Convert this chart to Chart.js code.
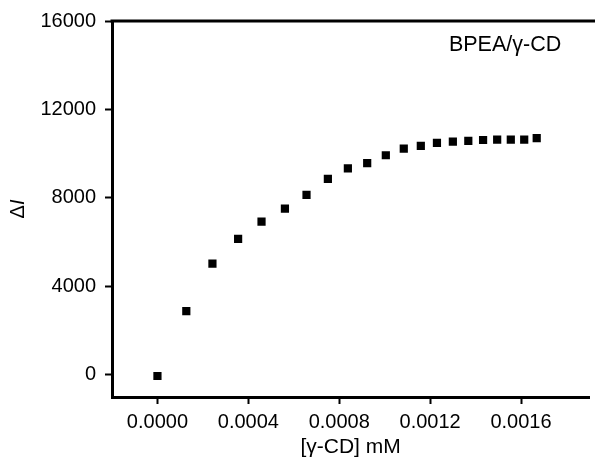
<!DOCTYPE html>
<html>
<head>
<meta charset="utf-8">
<title>BPEA/γ-CD titration</title>
<script src="https://cdn.jsdelivr.net/npm/chart.js@4/dist/chart.umd.min.js"></script>
<style>
    html, body { margin: 0; padding: 0; background: #fff; overflow: hidden; }
    #wrap { width: 595px; height: 466px; position: relative; }
</style>
</head>
<body>
<div id="wrap"><canvas id="chart"></canvas></div>
<script>
// [γ-CD] (mM) and intensity change ΔI
const concGammaCD = [0.0000, 0.000127, 0.000242, 0.000355, 0.000458, 0.000561, 0.000656,
    0.000750, 0.000838, 0.000923, 0.001005, 0.001084, 0.001159, 0.001230, 0.001300,
    0.001368, 0.001433, 0.001495, 0.001555, 0.001614, 0.001669];
const deltaI = [-50, 2880, 5030, 6150, 6930, 7520, 8140, 8860, 9340, 9570, 9930,
    10230, 10350, 10490, 10550, 10580, 10620, 10640, 10640, 10640, 10700];

const xTicks = [0, 0.0004, 0.0008, 0.0012, 0.0016];
const yTicks = [0, 4000, 8000, 12000, 16000];

const FONT = 'Liberation Sans, Arial, Helvetica, sans-serif';

// extra text: top frame line, y title (ΔI with italic I), series label
const extras = {
    id: 'extras',
    afterDraw(c) {
        const a = c.chartArea, ctx = c.ctx;
        ctx.save();
        ctx.strokeStyle = '#000';
        ctx.lineWidth = 3;
        ctx.beginPath();
        ctx.moveTo(a.left - 1.5, a.top);
        ctx.lineTo(c.width, a.top);
        ctx.stroke();

        ctx.fillStyle = '#000';
        ctx.textBaseline = 'middle';

        // y title, rotated
        ctx.save();
        ctx.translate(18, (a.top + a.bottom) / 2);
        ctx.rotate(-Math.PI / 2);
        ctx.font = '20px ' + FONT;
        const wD = ctx.measureText('Δ').width;
        ctx.font = 'italic 20px ' + FONT;
        const wI = ctx.measureText('I').width;
        let x0 = -(wD + wI) / 2;
        ctx.textAlign = 'left';
        ctx.font = '20px ' + FONT;
        ctx.fillText('Δ', x0, 0);
        ctx.font = 'italic 20px ' + FONT;
        ctx.fillText('I', x0 + wD, 0);
        ctx.restore();

        ctx.font = '21.5px ' + FONT;
        ctx.textAlign = 'right';
        ctx.fillText('BPEA/γ-CD', a.right - 28, a.top + 24);
        ctx.restore();
    }
};

new Chart(document.getElementById('chart'), {
    type: 'scatter',
    data: {
        datasets: [{
            data: concGammaCD.map((x, i) => ({ x: x, y: deltaI[i] })),
            pointStyle: 'rect',
            pointRadius: 5.8,
            pointHoverRadius: 5.8,
            backgroundColor: '#000',
            borderWidth: 0
        }]
    },
    options: {
        responsive: true,
        maintainAspectRatio: false,
        animation: false,
        devicePixelRatio: 1,
        layout: { padding: { top: 20, right: 0, left: 0, bottom: 0 } },
        plugins: { legend: { display: false }, tooltip: { enabled: false } },
        scales: {
            x: {
                type: 'linear',
                min: -0.0002,
                max: 0.0019,
                afterBuildTicks: s => { s.ticks = xTicks.map(v => ({ value: v })); },
                afterFit: s => { s.height = 69; },
                ticks: {
                    color: '#000',
                    font: { family: FONT, size: 20 },
                    padding: 6,
                    maxRotation: 0,
                    callback: v => v.toFixed(4)
                },
                grid: { drawOnChartArea: false, drawTicks: true, tickLength: 7, tickWidth: 2, tickColor: '#000' },
                border: { display: true, color: '#000', width: 3 },
                title: {
                    display: true,
                    text: '[γ-CD] mM',
                    color: '#000',
                    font: { family: FONT, size: 21 },
                    padding: { top: 0, bottom: 6 }
                }
            },
            y: {
                type: 'linear',
                min: -1000,
                max: 16000,
                afterBuildTicks: s => { s.ticks = yTicks.map(v => ({ value: v })); },
                afterFit: s => { s.width = 112; },
                ticks: {
                    color: '#000',
                    font: { family: FONT, size: 20 },
                    padding: 9,
                    callback: v => String(v)
                },
                grid: { drawOnChartArea: false, drawTicks: true, tickLength: 7, tickWidth: 2, tickColor: '#000' },
                border: { display: true, color: '#000', width: 3 }
            }
        }
    },
    plugins: [extras]
});
</script>
</body>
</html>
